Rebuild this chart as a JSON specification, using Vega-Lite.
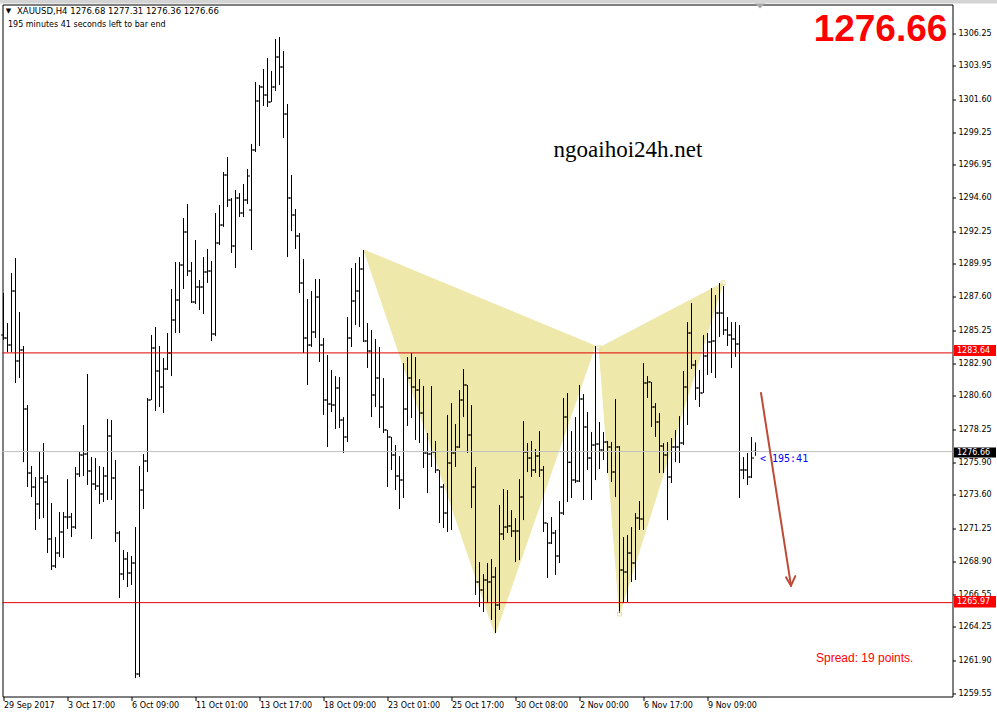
{
"$schema":"https://vega.github.io/schema/vega-lite/v6.json",
"width":950,"height":692,
"autosize":{"type":"none"},
"padding":{"left":2.5,"top":4.5,"right":44.5,"bottom":21.5},
"background":"white",
"config":{"view":{"stroke":"#000000","strokeWidth":1},"text":{"font":"DejaVu Sans"}},
"datasets":{
"bars":[
{"i":0,"o":1284.91,"h":1287.88,"l":1284.55,"c":1284.69},
{"i":1,"o":1284.69,"h":1285.75,"l":1283.70,"c":1284.20},
{"i":2,"o":1284.20,"h":1289.29,"l":1283.70,"c":1288.02},
{"i":3,"o":1288.02,"h":1290.35,"l":1281.51,"c":1283.07},
{"i":4,"o":1283.07,"h":1286.53,"l":1281.86,"c":1283.84},
{"i":5,"o":1283.84,"h":1284.13,"l":1275.91,"c":1279.67},
{"i":6,"o":1279.67,"h":1279.95,"l":1274.15,"c":1275.14},
{"i":7,"o":1275.14,"h":1275.64,"l":1273.44,"c":1274.15},
{"i":8,"o":1274.15,"h":1274.86,"l":1271.11,"c":1272.95},
{"i":9,"o":1272.95,"h":1276.70,"l":1271.89,"c":1274.79},
{"i":10,"o":1274.79,"h":1277.26,"l":1271.96,"c":1274.50},
{"i":11,"o":1274.50,"h":1275.00,"l":1269.48,"c":1270.47},
{"i":12,"o":1270.47,"h":1273.02,"l":1268.28,"c":1268.56},
{"i":13,"o":1268.56,"h":1270.61,"l":1268.42,"c":1269.48},
{"i":14,"o":1269.48,"h":1272.38,"l":1269.20,"c":1270.97},
{"i":15,"o":1270.97,"h":1272.38,"l":1269.13,"c":1272.03},
{"i":16,"o":1272.03,"h":1274.71,"l":1271.18,"c":1272.03},
{"i":17,"o":1272.03,"h":1272.31,"l":1270.61,"c":1271.32},
{"i":18,"o":1271.32,"h":1275.57,"l":1271.18,"c":1275.07},
{"i":19,"o":1275.07,"h":1276.63,"l":1274.86,"c":1276.41},
{"i":20,"o":1276.41,"h":1278.54,"l":1274.93,"c":1276.48},
{"i":21,"o":1276.48,"h":1282.15,"l":1274.29,"c":1275.28},
{"i":22,"o":1275.28,"h":1276.27,"l":1270.47,"c":1274.36},
{"i":23,"o":1274.36,"h":1276.20,"l":1273.94,"c":1274.22},
{"i":24,"o":1274.22,"h":1275.64,"l":1272.95,"c":1273.65},
{"i":25,"o":1273.65,"h":1275.57,"l":1273.09,"c":1274.93},
{"i":26,"o":1274.93,"h":1278.96,"l":1273.23,"c":1277.76},
{"i":27,"o":1277.76,"h":1278.89,"l":1273.23,"c":1274.79},
{"i":28,"o":1274.79,"h":1276.06,"l":1270.26,"c":1270.90},
{"i":29,"o":1270.90,"h":1271.04,"l":1266.30,"c":1268.00},
{"i":30,"o":1268.00,"h":1269.69,"l":1267.57,"c":1269.06},
{"i":31,"o":1269.06,"h":1269.55,"l":1267.07,"c":1268.07},
{"i":32,"o":1268.07,"h":1269.27,"l":1267.22,"c":1268.77},
{"i":33,"o":1268.77,"h":1271.32,"l":1260.63,"c":1260.92},
{"i":34,"o":1260.92,"h":1275.64,"l":1260.71,"c":1273.94},
{"i":35,"o":1273.94,"h":1276.48,"l":1272.59,"c":1275.99},
{"i":36,"o":1275.99,"h":1280.45,"l":1275.21,"c":1280.31},
{"i":37,"o":1280.31,"h":1284.91,"l":1280.31,"c":1283.99},
{"i":38,"o":1283.99,"h":1285.47,"l":1279.53,"c":1282.36},
{"i":39,"o":1282.36,"h":1284.13,"l":1279.81,"c":1281.23},
{"i":40,"o":1281.23,"h":1283.28,"l":1279.39,"c":1282.50},
{"i":41,"o":1282.50,"h":1285.05,"l":1282.43,"c":1283.63},
{"i":42,"o":1283.63,"h":1288.16,"l":1282.00,"c":1285.97},
{"i":43,"o":1285.97,"h":1290.07,"l":1285.05,"c":1287.38},
{"i":44,"o":1287.38,"h":1290.07,"l":1285.05,"c":1289.86},
{"i":45,"o":1289.86,"h":1293.18,"l":1288.16,"c":1292.19},
{"i":46,"o":1292.19,"h":1294.17,"l":1289.08,"c":1289.44},
{"i":47,"o":1289.44,"h":1290.07,"l":1287.17,"c":1287.24},
{"i":48,"o":1287.24,"h":1291.63,"l":1287.10,"c":1288.30},
{"i":49,"o":1288.30,"h":1288.80,"l":1286.67,"c":1288.30},
{"i":50,"o":1288.30,"h":1290.42,"l":1286.39,"c":1289.36},
{"i":51,"o":1289.36,"h":1290.99,"l":1288.59,"c":1289.44},
{"i":52,"o":1289.44,"h":1290.14,"l":1284.48,"c":1284.98},
{"i":53,"o":1284.98,"h":1293.54,"l":1284.83,"c":1291.42},
{"i":54,"o":1291.42,"h":1294.10,"l":1291.27,"c":1292.69},
{"i":55,"o":1292.69,"h":1296.44,"l":1292.55,"c":1296.23},
{"i":56,"o":1296.23,"h":1297.50,"l":1293.96,"c":1294.46},
{"i":57,"o":1294.46,"h":1294.60,"l":1290.71,"c":1291.20},
{"i":58,"o":1291.20,"h":1295.17,"l":1289.65,"c":1294.60},
{"i":59,"o":1294.60,"h":1294.95,"l":1293.25,"c":1293.54},
{"i":60,"o":1293.54,"h":1295.59,"l":1293.25,"c":1294.46},
{"i":61,"o":1294.46,"h":1296.65,"l":1294.17,"c":1296.16},
{"i":62,"o":1293.75,"h":1298.42,"l":1290.92,"c":1297.99},
{"i":63,"o":1297.99,"h":1302.81,"l":1297.85,"c":1301.46},
{"i":64,"o":1301.46,"h":1302.60,"l":1298.28,"c":1302.45},
{"i":65,"o":1302.45,"h":1303.73,"l":1301.11,"c":1301.89},
{"i":66,"o":1301.89,"h":1304.51,"l":1301.04,"c":1301.39},
{"i":67,"o":1301.39,"h":1303.59,"l":1301.39,"c":1302.45},
{"i":68,"o":1302.45,"h":1305.85,"l":1302.17,"c":1304.58},
{"i":69,"o":1304.58,"h":1305.99,"l":1302.60,"c":1303.87},
{"i":70,"o":1303.87,"h":1305.00,"l":1298.85,"c":1300.54},
{"i":71,"o":1300.54,"h":1301.25,"l":1290.42,"c":1294.60},
{"i":72,"o":1294.60,"h":1296.23,"l":1292.26,"c":1293.40},
{"i":73,"o":1293.40,"h":1293.82,"l":1290.99,"c":1291.91},
{"i":74,"o":1291.91,"h":1292.12,"l":1287.88,"c":1288.59},
{"i":75,"o":1288.59,"h":1290.28,"l":1283.63,"c":1284.69},
{"i":76,"o":1284.69,"h":1287.45,"l":1281.37,"c":1284.20},
{"i":77,"o":1284.20,"h":1288.02,"l":1284.06,"c":1285.12},
{"i":78,"o":1285.12,"h":1288.87,"l":1284.69,"c":1287.59},
{"i":79,"o":1287.59,"h":1288.87,"l":1283.00,"c":1284.20},
{"i":80,"o":1284.20,"h":1284.69,"l":1279.25,"c":1280.31},
{"i":81,"o":1280.31,"h":1283.49,"l":1276.98,"c":1280.02},
{"i":82,"o":1280.02,"h":1282.43,"l":1279.46,"c":1279.95},
{"i":83,"o":1279.95,"h":1282.00,"l":1278.26,"c":1281.16},
{"i":84,"o":1281.16,"h":1281.93,"l":1278.33,"c":1278.89},
{"i":85,"o":1278.89,"h":1279.10,"l":1276.56,"c":1277.69},
{"i":86,"o":1277.69,"h":1286.18,"l":1277.34,"c":1284.69},
{"i":87,"o":1284.69,"h":1289.65,"l":1284.06,"c":1287.31},
{"i":88,"o":1287.31,"h":1290.00,"l":1285.61,"c":1288.02},
{"i":89,"o":1288.02,"h":1290.42,"l":1285.47,"c":1289.58},
{"i":90,"o":1289.58,"h":1290.92,"l":1284.41,"c":1284.48},
{"i":91,"o":1284.48,"h":1285.75,"l":1282.57,"c":1283.77},
{"i":92,"o":1283.77,"h":1285.26,"l":1279.10,"c":1280.66},
{"i":93,"o":1280.66,"h":1284.62,"l":1279.81,"c":1281.86},
{"i":94,"o":1281.86,"h":1284.06,"l":1278.33,"c":1279.81},
{"i":95,"o":1279.81,"h":1281.86,"l":1277.97,"c":1278.19},
{"i":96,"o":1278.19,"h":1278.19,"l":1274.15,"c":1277.69},
{"i":97,"o":1277.69,"h":1277.69,"l":1275.35,"c":1276.41},
{"i":98,"o":1276.41,"h":1277.12,"l":1273.94,"c":1274.93},
{"i":99,"o":1274.93,"h":1276.34,"l":1272.59,"c":1274.64},
{"i":100,"o":1274.64,"h":1282.92,"l":1273.37,"c":1279.67},
{"i":101,"o":1279.67,"h":1283.35,"l":1278.47,"c":1281.86},
{"i":102,"o":1281.86,"h":1283.63,"l":1279.03,"c":1281.23},
{"i":103,"o":1281.23,"h":1283.35,"l":1277.48,"c":1281.01},
{"i":104,"o":1281.01,"h":1281.79,"l":1277.26,"c":1279.39},
{"i":105,"o":1279.39,"h":1281.30,"l":1275.50,"c":1276.56},
{"i":106,"o":1276.56,"h":1277.97,"l":1273.72,"c":1276.48},
{"i":107,"o":1276.48,"h":1281.30,"l":1275.57,"c":1276.63},
{"i":108,"o":1276.63,"h":1277.41,"l":1275.14,"c":1275.35},
{"i":109,"o":1275.35,"h":1275.35,"l":1271.60,"c":1274.15},
{"i":110,"o":1274.15,"h":1274.36,"l":1271.25,"c":1272.31},
{"i":111,"o":1272.31,"h":1279.25,"l":1270.97,"c":1275.85},
{"i":112,"o":1275.85,"h":1280.09,"l":1271.11,"c":1276.56},
{"i":113,"o":1276.56,"h":1278.61,"l":1275.57,"c":1276.98},
{"i":114,"o":1276.98,"h":1281.01,"l":1276.91,"c":1280.31},
{"i":115,"o":1280.31,"h":1282.50,"l":1279.10,"c":1281.37},
{"i":116,"o":1281.37,"h":1281.37,"l":1276.56,"c":1277.83},
{"i":117,"o":1277.83,"h":1279.95,"l":1272.66,"c":1274.15},
{"i":118,"o":1274.15,"h":1275.57,"l":1266.51,"c":1267.43},
{"i":119,"o":1267.43,"h":1268.84,"l":1265.66,"c":1266.86},
{"i":120,"o":1266.86,"h":1268.00,"l":1265.31,"c":1267.57},
{"i":121,"o":1267.57,"h":1268.77,"l":1265.94,"c":1267.43},
{"i":122,"o":1267.43,"h":1269.06,"l":1264.74,"c":1267.79},
{"i":123,"o":1267.79,"h":1268.49,"l":1263.82,"c":1265.80},
{"i":124,"o":1265.80,"h":1272.88,"l":1265.45,"c":1270.82},
{"i":125,"o":1270.82,"h":1274.01,"l":1270.40,"c":1271.32},
{"i":126,"o":1271.32,"h":1273.94,"l":1270.90,"c":1271.39},
{"i":127,"o":1271.39,"h":1272.52,"l":1270.61,"c":1271.04},
{"i":128,"o":1271.04,"h":1271.96,"l":1268.84,"c":1271.04},
{"i":129,"o":1271.04,"h":1274.71,"l":1268.98,"c":1273.44},
{"i":130,"o":1273.44,"h":1278.82,"l":1271.81,"c":1276.63},
{"i":131,"o":1276.63,"h":1277.26,"l":1275.21,"c":1276.20},
{"i":132,"o":1276.20,"h":1277.41,"l":1274.86,"c":1275.35},
{"i":133,"o":1275.35,"h":1276.84,"l":1275.14,"c":1276.34},
{"i":134,"o":1276.34,"h":1278.11,"l":1274.86,"c":1275.35},
{"i":135,"o":1275.35,"h":1275.64,"l":1270.97,"c":1271.60},
{"i":136,"o":1271.60,"h":1271.60,"l":1267.71,"c":1270.19},
{"i":137,"o":1270.19,"h":1272.03,"l":1270.12,"c":1270.90},
{"i":138,"o":1270.90,"h":1271.11,"l":1267.93,"c":1269.27},
{"i":139,"o":1269.27,"h":1273.16,"l":1268.77,"c":1272.31},
{"i":140,"o":1272.31,"h":1280.45,"l":1272.17,"c":1279.10},
{"i":141,"o":1279.10,"h":1280.80,"l":1273.09,"c":1275.91},
{"i":142,"o":1275.91,"h":1278.11,"l":1273.37,"c":1274.64},
{"i":143,"o":1274.64,"h":1279.10,"l":1274.43,"c":1274.57},
{"i":144,"o":1274.57,"h":1281.37,"l":1274.50,"c":1280.38},
{"i":145,"o":1280.38,"h":1280.73,"l":1273.23,"c":1278.40},
{"i":146,"o":1278.40,"h":1279.46,"l":1275.35,"c":1276.20},
{"i":147,"o":1276.20,"h":1278.04,"l":1273.23,"c":1277.12},
{"i":148,"o":1277.12,"h":1284.13,"l":1274.64,"c":1277.19},
{"i":149,"o":1277.19,"h":1278.75,"l":1275.42,"c":1276.77},
{"i":150,"o":1276.77,"h":1278.04,"l":1276.06,"c":1277.34},
{"i":151,"o":1277.34,"h":1277.41,"l":1275.14,"c":1276.98},
{"i":152,"o":1276.98,"h":1277.34,"l":1274.50,"c":1275.21},
{"i":153,"o":1275.21,"h":1280.38,"l":1273.44,"c":1276.98},
{"i":154,"o":1276.98,"h":1277.05,"l":1265.24,"c":1268.28},
{"i":155,"o":1268.28,"h":1270.61,"l":1265.94,"c":1268.14},
{"i":156,"o":1268.14,"h":1270.75,"l":1266.01,"c":1269.48},
{"i":157,"o":1269.48,"h":1271.32,"l":1267.43,"c":1268.77},
{"i":158,"o":1268.77,"h":1272.31,"l":1267.57,"c":1271.96},
{"i":159,"o":1271.96,"h":1273.16,"l":1271.11,"c":1271.89},
{"i":160,"o":1271.89,"h":1282.92,"l":1271.11,"c":1281.51},
{"i":161,"o":1281.51,"h":1282.00,"l":1280.45,"c":1281.58},
{"i":162,"o":1281.58,"h":1281.58,"l":1278.40,"c":1279.81},
{"i":163,"o":1279.81,"h":1280.09,"l":1277.69,"c":1278.75},
{"i":164,"o":1278.75,"h":1279.39,"l":1275.14,"c":1277.05},
{"i":165,"o":1277.05,"h":1277.26,"l":1275.14,"c":1276.41},
{"i":166,"o":1276.41,"h":1277.34,"l":1271.81,"c":1274.86},
{"i":167,"o":1274.86,"h":1277.62,"l":1274.43,"c":1276.98},
{"i":168,"o":1276.98,"h":1278.19,"l":1275.91,"c":1276.98},
{"i":169,"o":1276.98,"h":1279.17,"l":1275.85,"c":1277.26},
{"i":170,"o":1277.26,"h":1282.36,"l":1277.12,"c":1281.23},
{"i":171,"o":1281.23,"h":1285.82,"l":1278.54,"c":1285.05},
{"i":172,"o":1285.05,"h":1287.17,"l":1282.50,"c":1282.78},
{"i":173,"o":1282.78,"h":1283.14,"l":1280.31,"c":1281.16},
{"i":174,"o":1281.16,"h":1282.43,"l":1279.81,"c":1280.80},
{"i":175,"o":1280.80,"h":1284.91,"l":1280.80,"c":1283.42},
{"i":176,"o":1283.42,"h":1285.05,"l":1282.08,"c":1284.41},
{"i":177,"o":1284.41,"h":1288.23,"l":1282.22,"c":1284.48},
{"i":178,"o":1284.48,"h":1287.74,"l":1281.86,"c":1286.46},
{"i":179,"o":1286.46,"h":1288.59,"l":1284.76,"c":1286.46},
{"i":180,"o":1286.46,"h":1288.37,"l":1284.91,"c":1285.26},
{"i":181,"o":1285.26,"h":1286.18,"l":1284.13,"c":1284.91},
{"i":182,"o":1284.91,"h":1285.82,"l":1282.57,"c":1284.62},
{"i":183,"o":1284.62,"h":1285.82,"l":1283.35,"c":1284.27},
{"i":184,"o":1284.27,"h":1285.61,"l":1273.37,"c":1275.35},
{"i":185,"o":1275.35,"h":1276.27,"l":1274.71,"c":1275.35},
{"i":186,"o":1275.35,"h":1276.56,"l":1274.29,"c":1274.86},
{"i":187,"o":1274.86,"h":1277.69,"l":1274.79,"c":1276.20},
{"i":188,"o":1276.68,"h":1277.31,"l":1276.36,"c":1276.66}
],
"tri":[
{"tri":1,"ord":1,"x":90.1,"y":1290.92},{"tri":1,"ord":2,"x":122.9,"y":1263.75},{"tri":1,"ord":3,"x":147.9,"y":1284.13},{"tri":1,"ord":4,"x":90.1,"y":1290.92},
{"tri":2,"ord":1,"x":148.9,"y":1283.99},{"tri":2,"ord":2,"x":154.0,"y":1265.17},{"tri":2,"ord":3,"x":179.9,"y":1288.59},{"tri":2,"ord":4,"x":148.9,"y":1283.99}
],
"arrow":[
{"x":189.375,"y":1280.80,"x2":196.875,"y2":1267.17},
{"x":195.625,"y":1267.76,"x2":196.875,"y2":1267.17},
{"x":197.95,"y":1267.85,"x2":196.875,"y2":1267.17}
]
},
"layer":[
{"data":{"values":[{}]},"mark":{"type":"rect","color":"#D4D4D4"},
 "encoding":{"x":{"datum":-0.875,"type":"quantitative","scale":{"domain":[-0.25,237.25],"nice":false,"zero":false}},"x2":{"datum":248.375},
 "y":{"datum":1308.61,"type":"quantitative","scale":{"domain":[1259.33,1308.29],"nice":false,"zero":false}},"y2":{"datum":1308.36}}},
{"data":{"name":"tri"},"mark":{"type":"line","fill":"#EEE8AA","stroke":"#EEE8AA","strokeWidth":1},
 "encoding":{"x":{"field":"x","type":"quantitative","scale":{"domain":[-0.25,237.25],"nice":false,"zero":false}},
 "y":{"field":"y","type":"quantitative","scale":{"domain":[1259.33,1308.29],"nice":false,"zero":false}},
 "order":{"field":"ord"},"detail":{"field":"tri"}}},
{"data":{"name":"bars"},"mark":{"type":"rule","color":"#000000","strokeWidth":1},
 "encoding":{
  "x":{"field":"i","type":"quantitative","scale":{"domain":[-0.25,237.25],"nice":false,"zero":false},
   "axis":{"orient":"bottom","title":null,"values":[0,16,32,48,64,80,96,112,128,144,160,176],"tickCount":40,
    "labelExpr":"['29 Sep 2017','3 Oct 17:00','6 Oct 09:00','11 Oct 01:00','13 Oct 17:00','18 Oct 09:00','23 Oct 01:00','25 Oct 17:00','30 Oct 08:00','2 Nov 00:00','6 Nov 17:00','9 Nov 09:00'][round(datum.value/16)]",
    "domain":false,"grid":false,"ticks":true,"tickSize":4,"tickColor":"#000000","labelAlign":"left","labelBaseline":"top","labelPadding":1,
    "labelFont":"DejaVu Sans","labelFontSize":8,"labelColor":"#000000","labelOverlap":false,"labelFlush":false,"labelBound":false}},
  "y":{"field":"l","type":"quantitative","scale":{"domain":[1259.33,1308.29],"nice":false,"zero":false},
   "axis":{"orient":"right","title":null,"values":[1306.25,1303.95,1301.60,1299.25,1296.95,1294.60,1292.25,1289.95,1287.60,1285.25,1282.90,1280.60,1278.25,1275.90,1273.60,1271.25,1268.90,1266.55,1264.25,1261.90,1259.55],"tickCount":40,
    "format":".2f","domain":false,"grid":false,"ticks":true,"tickSize":3,"tickColor":"#000000","labelPadding":2.5,
    "labelFont":"DejaVu Sans","labelFontSize":8,"labelColor":"#000000","labelOverlap":false,"labelFlush":false,"labelBound":false}},
  "y2":{"field":"h"}}},
{"data":{"name":"bars"},"mark":{"type":"tick","orient":"horizontal","size":2,"thickness":1,"xOffset":-1.5,"color":"#000000","opacity":1},
 "encoding":{"x":{"field":"i","type":"quantitative","scale":{"domain":[-0.25,237.25],"nice":false,"zero":false}},
 "y":{"field":"o","type":"quantitative","scale":{"domain":[1259.33,1308.29],"nice":false,"zero":false}}}},
{"data":{"name":"bars"},"mark":{"type":"tick","orient":"horizontal","size":2,"thickness":1,"xOffset":1.5,"color":"#000000","opacity":1},
 "encoding":{"x":{"field":"i","type":"quantitative","scale":{"domain":[-0.25,237.25],"nice":false,"zero":false}},
 "y":{"field":"c","type":"quantitative","scale":{"domain":[1259.33,1308.29],"nice":false,"zero":false}}}},
{"data":{"values":[{}]},"mark":{"type":"rule","color":"#C0C0C0","strokeWidth":1},
 "encoding":{"y":{"datum":1276.66,"type":"quantitative","scale":{"domain":[1259.33,1308.29],"nice":false,"zero":false}}}},
{"data":{"values":[{}]},"mark":{"type":"rule","color":"#E00000","strokeWidth":1},
 "encoding":{"y":{"datum":1283.64,"type":"quantitative","scale":{"domain":[1259.33,1308.29],"nice":false,"zero":false}}}},
{"data":{"values":[{}]},"mark":{"type":"rule","color":"#E00000","strokeWidth":1},
 "encoding":{"y":{"datum":1265.97,"type":"quantitative","scale":{"domain":[1259.33,1308.29],"nice":false,"zero":false}}}},
{"data":{"name":"tri"},"transform":[{"filter":"datum.tri == 2 && datum.ord < 4"}],
 "mark":{"type":"point","shape":"square","size":16,"filled":false,"color":"#E6DE9A","strokeWidth":1,"opacity":1},
 "encoding":{"x":{"field":"x","type":"quantitative","scale":{"domain":[-0.25,237.25],"nice":false,"zero":false}},
 "y":{"field":"y","type":"quantitative","scale":{"domain":[1259.33,1308.29],"nice":false,"zero":false}}}},
{"data":{"name":"arrow"},"mark":{"type":"rule","color":"#BE4B37","strokeWidth":2,"strokeCap":"round"},
 "encoding":{"x":{"field":"x","type":"quantitative","scale":{"domain":[-0.25,237.25],"nice":false,"zero":false}},
 "y":{"field":"y","type":"quantitative","scale":{"domain":[1259.33,1308.29],"nice":false,"zero":false}},
 "x2":{"field":"x2"},"y2":{"field":"y2"}}},
{"data":{"values":[{}]},"mark":{"type":"point","shape":"M-1,-0.5L1,-0.5L0,0.5Z","size":100,"filled":true,"color":"#A8A8A8","opacity":1},
 "encoding":{"x":{"datum":189.125,"type":"quantitative","scale":{"domain":[-0.25,237.25],"nice":false,"zero":false}},
 "y":{"datum":1308.19,"type":"quantitative","scale":{"domain":[1259.33,1308.29],"nice":false,"zero":false}}}},
{"data":{"values":[{}]},"mark":{"type":"text","text":"▼","font":"DejaVu Sans","fontSize":7,"color":"#000000","align":"center","baseline":"middle"},
 "encoding":{"x":{"datum":1.25,"type":"quantitative","scale":{"domain":[-0.25,237.25],"nice":false,"zero":false}},
 "y":{"datum":1307.80,"type":"quantitative","scale":{"domain":[1259.33,1308.29],"nice":false,"zero":false}}}},
{"data":{"values":[{}]},"mark":{"type":"text","text":"XAUUSD,H4  1276.68 1277.31 1276.36 1276.66","font":"DejaVu Sans","fontSize":8.5,"color":"#000000","align":"left","baseline":"middle"},
 "encoding":{"x":{"datum":3.375,"type":"quantitative","scale":{"domain":[-0.25,237.25],"nice":false,"zero":false}},
 "y":{"datum":1307.80,"type":"quantitative","scale":{"domain":[1259.33,1308.29],"nice":false,"zero":false}}}},
{"data":{"values":[{}]},"mark":{"type":"text","text":"195 minutes 41 seconds left to bar end","font":"DejaVu Sans","fontSize":8,"color":"#000000","align":"left","baseline":"middle"},
 "encoding":{"x":{"datum":1.125,"type":"quantitative","scale":{"domain":[-0.25,237.25],"nice":false,"zero":false}},
 "y":{"datum":1306.84,"type":"quantitative","scale":{"domain":[1259.33,1308.29],"nice":false,"zero":false}}}},
{"data":{"values":[{}]},"mark":{"type":"text","text":"1276.66","font":"Liberation Sans","fontWeight":"bold","fontSize":37,"color":"#FF0000","align":"center","baseline":"alphabetic"},
 "encoding":{"x":{"datum":219.25,"type":"quantitative","scale":{"domain":[-0.25,237.25],"nice":false,"zero":false}},
 "y":{"datum":1305.71,"type":"quantitative","scale":{"domain":[1259.33,1308.29],"nice":false,"zero":false}}}},
{"data":{"values":[{}]},"mark":{"type":"text","text":"ngoaihoi24h.net","font":"Liberation Serif","fontSize":23,"color":"#000000","align":"center","baseline":"alphabetic"},
 "encoding":{"x":{"datum":156.125,"type":"quantitative","scale":{"domain":[-0.25,237.25],"nice":false,"zero":false}},
 "y":{"datum":1297.50,"type":"quantitative","scale":{"domain":[1259.33,1308.29],"nice":false,"zero":false}}}},
{"data":{"values":[{}]},"mark":{"type":"text","text":"< 195:41","font":"DejaVu Sans Mono","fontSize":10,"color":"#0000FF","align":"left","baseline":"middle"},
 "encoding":{"x":{"datum":189.125,"type":"quantitative","scale":{"domain":[-0.25,237.25],"nice":false,"zero":false}},
 "y":{"datum":1276.13,"type":"quantitative","scale":{"domain":[1259.33,1308.29],"nice":false,"zero":false}}}},
{"data":{"values":[{}]},"mark":{"type":"text","text":"Spread: 19 points.","font":"Liberation Sans","fontSize":12,"color":"#FF0000","align":"left","baseline":"middle"},
 "encoding":{"x":{"datum":203.125,"type":"quantitative","scale":{"domain":[-0.25,237.25],"nice":false,"zero":false}},
 "y":{"datum":1262.05,"type":"quantitative","scale":{"domain":[1259.33,1308.29],"nice":false,"zero":false}}}},
{"data":{"values":[{}]},"mark":{"type":"rect","color":"#FF0000"},
 "encoding":{"x":{"datum":237.625,"type":"quantitative","scale":{"domain":[-0.25,237.25],"nice":false,"zero":false}},"x2":{"datum":248.125},
 "y":{"datum":1284.20,"type":"quantitative","scale":{"domain":[1259.33,1308.29],"nice":false,"zero":false}},"y2":{"datum":1283.42}}},
{"data":{"values":[{}]},"mark":{"type":"rect","color":"#000000"},
 "encoding":{"x":{"datum":237.625,"type":"quantitative","scale":{"domain":[-0.25,237.25],"nice":false,"zero":false}},"x2":{"datum":248.125},
 "y":{"datum":1276.94,"type":"quantitative","scale":{"domain":[1259.33,1308.29],"nice":false,"zero":false}},"y2":{"datum":1276.24}}},
{"data":{"values":[{}]},"mark":{"type":"rect","color":"#FF0000"},
 "encoding":{"x":{"datum":237.625,"type":"quantitative","scale":{"domain":[-0.25,237.25],"nice":false,"zero":false}},"x2":{"datum":248.125},
 "y":{"datum":1266.44,"type":"quantitative","scale":{"domain":[1259.33,1308.29],"nice":false,"zero":false}},"y2":{"datum":1265.62}}},
{"data":{"values":[{"t":"1283.64","p":1283.81},{"t":"1276.66","p":1276.59},{"t":"1265.97","p":1266.03}]},
 "mark":{"type":"text","font":"DejaVu Sans","fontSize":8,"color":"#FFFFFF","align":"left","baseline":"middle"},
 "encoding":{"x":{"datum":238.375,"type":"quantitative","scale":{"domain":[-0.25,237.25],"nice":false,"zero":false}},
 "y":{"field":"p","type":"quantitative","scale":{"domain":[1259.33,1308.29],"nice":false,"zero":false}},
 "text":{"field":"t"}}}
]
}
